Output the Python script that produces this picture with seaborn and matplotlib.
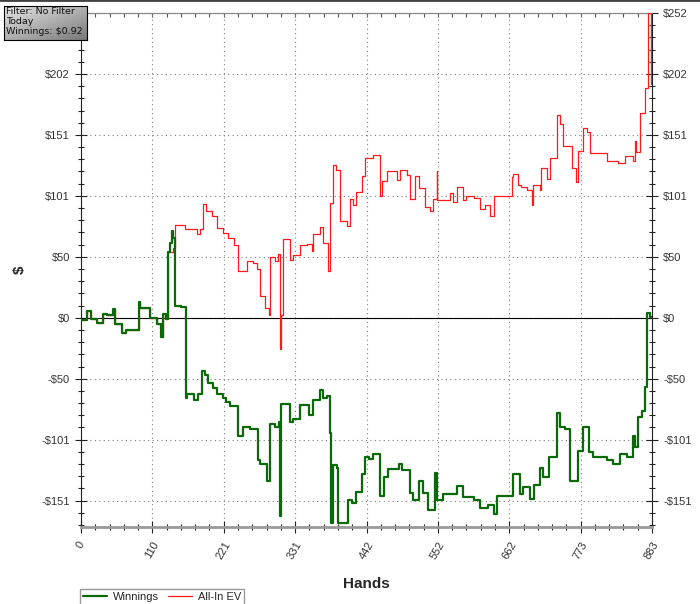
import numpy as np
import pandas as pd
from matplotlib import pyplot as plt
from matplotlib.ticker import MultipleLocator, FixedLocator
from matplotlib.lines import Line2D
import seaborn as sns

# breakpoints (hand number, cumulative $)
win_hands = [0, 10, 16, 24, 34, 40, 49, 52, 63, 70, 90, 91, 107, 117, 124, 127, 132, 134, 138, 140,
             143, 145, 146, 155, 162, 164, 174, 181, 187, 192, 197, 204, 210, 220, 225, 230, 243,
             251, 262, 274, 277, 287, 292, 300, 306, 308, 309, 323, 328, 339, 352, 359, 370, 374,
             380, 385, 387, 390, 396, 398, 413, 419, 426, 434, 439, 446, 452, 462, 468, 475, 491,
             496, 509, 514, 522, 529, 537, 547, 550, 560, 581, 591, 607, 617, 630, 638, 643, 668,
             679, 684, 694, 700, 710, 715, 723, 736, 741, 748, 756, 769, 777, 785, 792, 813, 823,
             834, 844, 854, 857, 862, 867, 872, 876, 880, 883]
win_values = [-2, 6, -1, -4, 3, 2, 7, -5, -13, -10, 13, 8, 0, -5, -16, 3, -1, 54, 62, 72,
              66, 12, 10, 9, -66, -63, -68, -63, -44, -47, -54, -58, -63, -66, -70, -73, -98,
              -90, -92, -118, -121, -135, -88, -90, -86, -164, -71, -86, -84, -72, -80, -68, -60, -66,
              -65, -95, -170, -122, -124, -170, -151, -153, -144, -129, -115, -117, -113, -147, -132, -125, -121,
              -126, -145, -151, -135, -145, -159, -128, -151, -146, -139, -148, -151, -157, -155, -162, -147, -129,
              -146, -140, -150, -138, -124, -132, -115, -79, -90, -92, -135, -110, -90, -111, -115, -118, -121,
              -113, -115, -98, -107, -82, -77, -57, 4, 1, 1]

ev_hands = [0, 10, 16, 24, 34, 40, 49, 52, 63, 70, 90, 91, 107, 117, 124, 127, 132, 134, 143, 145,
            161, 179, 184, 189, 194, 202, 210, 220, 228, 236, 243, 256, 266, 272, 277, 284, 290,
            293, 300, 305, 308, 310, 313, 323, 328, 339, 349, 357, 359, 370, 375, 382, 385, 390,
            395, 400, 411, 416, 421, 426, 434, 439, 452, 462, 466, 473, 488, 493, 504, 509, 516,
            522, 532, 540, 545, 550, 551, 571, 576, 581, 591, 596, 607, 617, 625, 632, 638, 666,
            668, 676, 681, 689, 697, 699, 710, 712, 720, 725, 736, 741, 746, 759, 766, 769, 776,
            782, 787, 813, 831, 841, 854, 857, 859, 864, 872, 877, 881, 883]
ev_values = [-2, 6, -1, -4, 3, 2, 7, -5, -13, -10, 13, 8, 0, -5, -16, 3, -1, 54, 58, 77,
             73, 69, 73, 94, 88, 84, 74, 70, 66, 60, 39, 47, 45, 40, 18, 8, 2,
             50, 47, 53, -26, 2, 65, 48, 52, 60, 61, 55, 69, 75, 62, 39, 95, 126,
             122, 80, 76, 98, 93, 104, 117, 132, 135, 101, 113, 121, 114, 122, 118, 98, 117,
             107, 92, 88, 98, 121, 97, 103, 96, 108, 97, 101, 99, 90, 93, 84, 101, 116,
             119, 110, 108, 106, 93, 110, 106, 124, 115, 132, 168, 160, 142, 124, 112, 138, 157,
             154, 136, 130, 128, 134, 130, 146, 137, 169, 190, 252, 193, 193]

x_labels = ['0', '110', '221', '331', '442', '552', '662', '773', '883']
y_labels = ['-$151', '-$101', '-$50', '$0', '$50', '$101', '$151', '$202', '$252']
info_text = 'Filter: No Filter\nToday\nWinnings: $0.92'

total_hands = 883
y_top = 252

sns.set_style('white')
plt.rcParams['font.family'] = ['Liberation Sans', 'DejaVu Sans']

fig = plt.figure(figsize=(7, 6.04), dpi=100)
ax = fig.add_axes([81 / 700, 1 - 527 / 604, 571 / 700, 514 / 604])

ev_df = pd.DataFrame({'hand': ev_hands, 'value': ev_values})
win_df = pd.DataFrame({'hand': win_hands, 'value': win_values})
sns.lineplot(data=ev_df, x='hand', y='value', ax=ax, color='#ff1a1a', linewidth=0.9,
             drawstyle='steps-post', estimator=None, zorder=3)
sns.lineplot(data=win_df, x='hand', y='value', ax=ax, color='#0a6a0a', linewidth=1.6,
             drawstyle='steps-post', estimator=None, zorder=4)
ax.axhline(0, color='black', linewidth=0.8, zorder=2)

ax.set_xlim(0, total_hands)
ax.set_ylim(-173, y_top)

x_major = [total_hands * i / 8 for i in range(9)]
y_major = [y_top * i / 5 for i in range(-3, 6)]
ax.xaxis.set_major_locator(FixedLocator(x_major))
ax.set_xticklabels(x_labels)
ax.xaxis.set_minor_locator(MultipleLocator(total_hands / 40))
ax.yaxis.set_major_locator(FixedLocator(y_major))
ax.set_yticklabels(y_labels)
ax.yaxis.set_minor_locator(MultipleLocator(y_top / 25))

ax.grid(which='major', linestyle=(0, (1, 3)), color='#808080', linewidth=0.8, zorder=1)

ax.tick_params(axis='both', which='major', direction='inout', length=8, width=0.8,
               color='#222222', labelsize=8, labelcolor='#333333')
ax.tick_params(axis='both', which='minor', direction='inout', length=4, width=0.8,
               color='#222222')
ax.tick_params(axis='y', which='both', right=True, labelright=True, left=True, pad=4)
ax.tick_params(axis='x', which='both', bottom=True, top=False, pad=5)
for lbl in ax.get_xticklabels():
    lbl.set_rotation(60)
    lbl.set_ha('center')
    lbl.set_va('top')
# the info box hides the top-left label
ax.yaxis.get_major_ticks()[-1].label1.set_visible(False)

top = ax.secondary_xaxis('top')
top.xaxis.set_major_locator(FixedLocator(x_major))
top.xaxis.set_minor_locator(MultipleLocator(total_hands / 40))
top.tick_params(which='both', direction='in', length=3, width=0.8, color='#555555',
                labeltop=False)
top.spines['top'].set_color('#888888')

ax.spines['bottom'].set_color('#999999')
ax.spines['bottom'].set_linewidth(2)
ax.spines['top'].set_color('#888888')
ax.spines['left'].set_color('#222222')
ax.spines['right'].set_color('#222222')

ax.set_xlabel('Hands', fontsize=11, fontweight='bold', labelpad=12)
ax.set_ylabel('')
fig.text(20 / 700, 1 - 270 / 604, '$', rotation=90, fontsize=11, fontweight='bold',
         ha='center', va='center')

handles = [Line2D([], [], color='#0a6a0a', linewidth=1.6),
           Line2D([], [], color='#ff1a1a', linewidth=0.9)]
leg = fig.legend(handles, ['Winnings', 'All-In EV'], loc='upper left',
                 bbox_to_anchor=(80 / 700, 1 - 589 / 604), ncol=2, frameon=True,
                 fancybox=False, edgecolor='#808080', fontsize=8, handlelength=2.2,
                 borderpad=0.25, columnspacing=0.8, handletextpad=0.5, borderaxespad=0)
leg.get_frame().set_linewidth(1)

# info box with grey gradient
box = fig.add_axes([4 / 700, 1 - 40 / 604, 83 / 700, 34 / 604])
grad = np.add.outer(np.linspace(0, 1, 20), np.linspace(0, 1, 40)) / 2
box.imshow(0.9 - 0.42 * grad, cmap='gray', vmin=0, vmax=1, aspect='auto', extent=(0, 1, 0, 1))
box.set_xticks([])
box.set_yticks([])
for s in box.spines.values():
    s.set_color('black')
    s.set_linewidth(0.8)
box.text(0.03, 0.97, info_text, transform=box.transAxes, fontsize=6.8, va='top', ha='left',
         linespacing=1.12, color='#111111', family='DejaVu Sans')

fig.add_artist(Line2D([0, 1], [1, 1], transform=fig.transFigure, color='#404040', linewidth=2))

fig.savefig('out.png', dpi=100)
